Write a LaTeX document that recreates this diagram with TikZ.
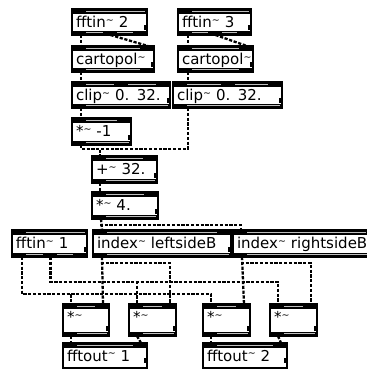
\documentclass[tikz,border=0pt]{standalone}
\usepackage{fontspec}
\newfontfamily\objfont{DejaVu Sans}
\usetikzlibrary{calc}
\newcommand\tld{\raisebox{4.5pt}{\fontsize{9.5}{10}\selectfont\char"7E}}
\newcommand\graygaps[5]{%
  \ifnum#3=1
    \fill[gray!50] (#1+14,#4) rectangle (#2-2,#5);
  \else
    \pgfmathsetmacro\gstep{(#2-#1-14)/(#3-1)}%
    \pgfmathtruncatemacro\gn{#3-1}%
    \foreach \k in {1,...,\gn}{%
      \fill[gray!50] ({#1+(\k-1)*\gstep+14},#4) rectangle ({#1+\k*\gstep},#5);
    }%
  \fi}
\newcommand\maxobj[8]{%
  \pgfmathsetmacro\mW{#4-#2}%
  \pgfmathsetmacro\mH{#5-#3}%
  \pgfmathsetmacro\mTW{#4-#2-8}%
  \pgfmathsetmacro\mTD{max(#5-#3-26,0)}%
  \node[objbox, minimum width=\mW pt, minimum height=\mH pt, text width=\mTW pt, text depth=\mTD pt] (#1) at (#2,#3) {#8};
  \fill (#2,#3) rectangle (#4,#3+4.5);
  \graygaps{#2}{#4}{#6}{#3+1.6}{#3+3}
  \ifnum#7>0
    \fill (#2,#5-4.5) rectangle (#4,#5);
    \graygaps{#2}{#4}{#7}{#5-3}{#5-1.6}
  \fi
  \fill (#4-3.4,#5-10) rectangle (#4-1,#5-5);
}
\tikzset{
  objbox/.style={draw=black, line width=1.2pt, fill=white, anchor=north west,
    outer sep=0pt, inner xsep=4pt, inner ysep=0pt, align=left,
    font={\objfont\fontsize{15}{16}\selectfont}, text height=11pt},
  cord/.style={line width=2.3pt, dash pattern=on 3.2pt off 1.6pt},
}
\begin{document}
\begin{tikzpicture}[x=1pt,y=-1pt]
\useasboundingbox (0,0) rectangle (367,370);
\fill[white] (0,0) rectangle (367,370);
\clip (0,0) rectangle (367,370);
% objects
\maxobj{fA}{72}{9}{147}{35}{1}{3}{fftin\tld\ 2}
\maxobj{fB}{178}{9}{251}{35}{1}{3}{fftin\tld\ 3}
\maxobj{cA}{72}{46}{154}{72}{2}{2}{cartopol\tld}
\maxobj{cB}{178}{46}{253}{72}{2}{2}{cartopol\tld}
\maxobj{kA}{72}{82}{170}{108}{3}{1}{clip\tld\ 0. 32.}
\maxobj{kB}{173}{82}{282}{108}{3}{1}{clip\tld\ 0. 32.}
\maxobj{mA}{72}{118}{131}{145}{2}{1}{*\tld\ -1}
\maxobj{pA}{92}{156}{157}{183}{2}{1}{+\tld\ 32.}
\maxobj{mB}{92}{192}{158}{219}{2}{1}{*\tld\ 4.}
\maxobj{fC}{12}{230}{87}{257}{1}{3}{fftin\tld\ 1}
\maxobj{iL}{93}{230}{231}{257}{2}{1}{index\tld\ leftsideB}
\maxobj{iR}{233}{230}{380}{257}{2}{1}{index\tld\ rightsideB}
\maxobj{m1}{63}{304}{109}{336}{2}{1}{*\tld}
\maxobj{m2}{129}{304}{176}{336}{2}{1}{*\tld}
\maxobj{m3}{203}{304}{250}{336}{2}{1}{*\tld}
\maxobj{m4}{270}{304}{317}{336}{2}{1}{*\tld}
\maxobj{o1}{63}{343}{147}{368}{2}{0}{fftout\tld\ 1}
\maxobj{o2}{203}{343}{287}{368}{2}{0}{fftout\tld\ 2}
% cords
\draw[cord] ($(fA.south west)+(9,0)$) -- ($(cA.north west)+(9,0)$);
\draw[cord] ($(fA.south)+(1,0)$) -- ($(cA.north east)+(-6,0)$);
\draw[cord] ($(fB.south west)+(10,0)$) -- ($(cB.north west)+(10,0)$);
\draw[cord] ($(fB.south)+(1,0)$) -- ($(cB.north east)+(-6,0)$);
\draw[cord] ($(cA.south west)+(9,0)$) -- ($(kA.north west)+(9,0)$);
\draw[cord] ($(cB.south west)+(10,0)$) -- ($(kB.north west)+(15,0)$);
\draw[cord] ($(kA.south west)+(9,0)$) -- ($(mA.north west)+(9,0)$);
\draw[cord] ($(kB.south west)+(15,0)$) |- ($(pA.north west)+(8,-7)$) -- ($(pA.north west)+(8,0)$);
\draw[cord] ($(mA.south west)+(9,0)$) -- ++(0,4) -| ($(pA.north west)+(8,0)$);
\draw[cord] ($(pA.south west)+(8,0)$) -- ($(mB.north west)+(8,0)$);
\draw[cord] ($(mB.south west)+(9,0)$) -- ($(iL.north west)+(9,0)$);
\draw[cord] ($(mB.south west)+(9,0)$) -- ++(0,6) -| ($(iR.north west)+(8,0)$);
\draw[cord] ($(fC.south west)+(10,0)$) |- ($(m1.north west)+(8,-10)$) -- ($(m1.north west)+(8,0)$);
\draw[cord] ($(fC.south west)+(10,0)$) |- ($(m3.north west)+(8,-10)$) -- ($(m3.north west)+(8,0)$);
\draw[cord] ($(fC.south)+(1,0)$) |- ($(m2.north west)+(8,-22)$) -- ($(m2.north west)+(8,0)$);
\draw[cord] ($(fC.south)+(1,0)$) |- ($(m4.north west)+(8,-22)$) -- ($(m4.north west)+(8,0)$);
\draw[cord] ($(iL.south west)+(9,0)$) -- ($(m1.north east)+(-6,0)$);
\draw[cord] ($(iL.south west)+(9,0)$) -- ++(0,6) -| ($(m2.north east)+(-6,0)$);
\draw[cord] ($(iR.south west)+(9,0)$) -- ($(m3.north east)+(-6,0)$);
\draw[cord] ($(iR.south west)+(9,0)$) -- ++(0,6) -| ($(m4.north east)+(-6,0)$);
\draw[cord] ($(m1.south west)+(8,0)$) -- ($(o1.north west)+(8,0)$);
\draw[cord] ($(m2.south west)+(8,0)$) -- ($(o1.north east)+(-6,0)$);
\draw[cord] ($(m3.south west)+(8,0)$) -- ($(o2.north west)+(8,0)$);
\draw[cord] ($(m4.south west)+(8,0)$) -- ($(o2.north east)+(-6,0)$);
\end{tikzpicture}
\end{document}
